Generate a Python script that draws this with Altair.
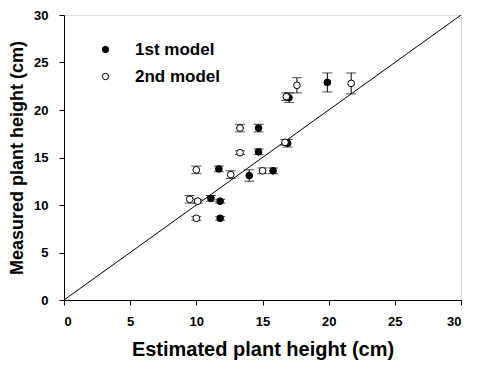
import altair as alt
import pandas as pd

model = ["1st model"] * 11 + ["2nd model"] * 12
estimated = [19.9, 17.0, 14.7, 14.7, 16.9, 11.7, 14.0, 15.8, 11.1, 11.8, 11.8,
             17.6, 21.7, 16.8, 13.3, 13.3, 16.7, 10.0, 12.6, 15.0, 9.5, 10.1, 10.0]
measured = [22.9, 21.3, 18.1, 15.6, 16.5, 13.8, 13.1, 13.6, 10.7, 10.4, 8.6,
            22.6, 22.8, 21.4, 18.1, 15.5, 16.6, 13.7, 13.2, 13.6, 10.6, 10.4, 8.6]
err = [1.0, 0.5, 0.4, 0.3, 0.4, 0.3, 0.6, 0.3, 0.3, 0.2, 0.2,
       0.8, 1.1, 0.4, 0.4, 0.2, 0.3, 0.4, 0.4, 0.3, 0.4, 0.2, 0.2]
ticks = [0, 5, 10, 15, 20, 25, 30]

df = pd.DataFrame({"model": model, "est": estimated, "meas": measured, "err": err})
df["lo"] = df["meas"] - df["err"]
df["hi"] = df["meas"] + df["err"]

line_df = pd.DataFrame({"a": [0, 30], "b": [0, 30]})

FONT = "Liberation Sans"
xs = alt.Scale(domain=[0, 30], nice=False)
ys = alt.Scale(domain=[0, 30], nice=False)

common = dict(grid=False, tickSize=5, labelFontWeight="bold", titleFontWeight="bold",
              labelColor="black", titleColor="black", domainColor="black", tickColor="black",
              labelFont=FONT, titleFont=FONT, values=ticks)
xaxis = alt.Axis(title="Estimated plant height (cm)", labelFontSize=13, titleFontSize=20,
                 titlePadding=11, labelPadding=10, **common)
yaxis = alt.Axis(title="Measured plant height (cm)", labelFontSize=13, titleFontSize=18,
                 titlePadding=7, labelPadding=11, **common)

diag = alt.Chart(line_df).mark_line(color="black", strokeWidth=1).encode(
    x=alt.X("a:Q", scale=xs, axis=xaxis),
    y=alt.Y("b:Q", scale=ys, axis=yaxis),
)

bars = alt.Chart(df).mark_rule(color="black", strokeWidth=1).encode(
    x="est:Q", y="lo:Q", y2="hi:Q"
)
cap_lo = alt.Chart(df).mark_tick(color="black", orient="horizontal", size=10, thickness=1).encode(
    x="est:Q", y="lo:Q"
)
cap_hi = alt.Chart(df).mark_tick(color="black", orient="horizontal", size=10, thickness=1).encode(
    x="est:Q", y="hi:Q"
)

pts = alt.Chart(df).mark_point(filled=False, stroke="black", strokeWidth=1, size=45, opacity=1).encode(
    x="est:Q", y="meas:Q",
    fill=alt.Fill("model:N",
                  scale=alt.Scale(domain=["1st model", "2nd model"], range=["black", "white"]),
                  legend=alt.Legend(title=None, orient="none", legendX=33, legendY=26,
                                    labelFontSize=17, labelFontWeight="bold", labelFont=FONT,
                                    labelColor="black", symbolStrokeColor="black",
                                    symbolSize=40, symbolStrokeWidth=1, rowPadding=9,
                                    labelOffset=21, symbolType="circle")),
)

chart = (diag + bars + cap_lo + cap_hi + pts).properties(
    width=397, height=285,
    padding={"top": 1, "left": 0, "right": 5, "bottom": 5},
).configure_view(stroke="black", strokeWidth=1).configure(background="white")

chart.save("out.html", embed_options={"renderer": "svg", "actions": False})
